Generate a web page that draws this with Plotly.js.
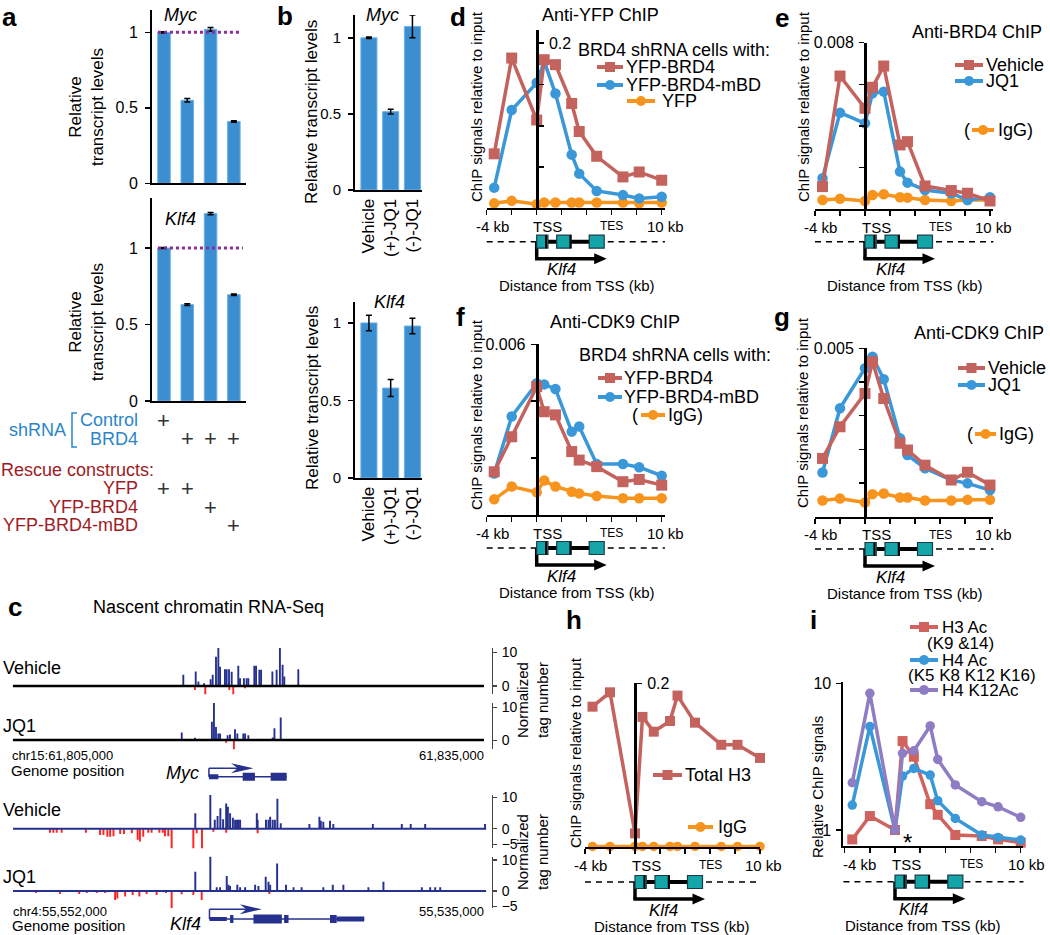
<!DOCTYPE html>
<html><head><meta charset="utf-8">
<script src="https://cdn.plot.ly/plotly-3.0.1.min.js"></script>
<style>html,body{margin:0;padding:0;background:#fff;}#plot{width:1050px;height:935px;}</style>
</head><body><div id="plot"></div>
<script>
// ---------------- DATA ----------------
// Panel a
const aConditions = ["Control shRNA + YFP", "BRD4 shRNA + YFP", "BRD4 shRNA + YFP-BRD4", "BRD4 shRNA + YFP-BRD4-mBD"];
const aMyc = [1.0, 0.55, 1.02, 0.41];
const aMycErr = [0.004, 0.012, 0.012, 0.005];
const aKlf4 = [1.0, 0.63, 1.225, 0.695];
const aKlf4Err = [0.003, 0.005, 0.008, 0.005];
const shControl = [1, 0, 0, 0];
const shBRD4 = [0, 1, 1, 1];
const rescueYFP = [1, 1, 0, 0];
const rescueYFPBRD4 = [0, 0, 1, 0];
const rescueYFPBRD4mBD = [0, 0, 0, 1];
// Panel b
const bCategories = ["Vehicle", "(+)-JQ1", "(-)-JQ1"];
const bMyc = [1.0, 0.515, 1.075];
const bMycErr = [0.005, 0.015, 0.075];
const bKlf4 = [1.0, 0.58, 0.98];
const bKlf4Err = [0.05, 0.055, 0.05];
// ChIP positions (kb from TSS)
const chipPos = [-3.4, -2, 0, 0.6, 1.5, 2.8, 3.4, 4.8, 6.9, 8.2, 10];
// d
const dYfpBrd4 = [0.066, 0.182, 0.107, 0.180, 0.174, 0.127, 0.093, 0.063, 0.038, 0.044, 0.034];
const dYfpBrd4mBD = [0.025, 0.119, 0.152, 0.178, 0.139, 0.065, 0.042, 0.021, 0.016, 0.012, 0.014];
const dYfp = [0.006, 0.009, 0.005, 0.007, 0.007, 0.007, 0.007, 0.007, 0.007, 0.006, 0.007];
// e
const eVehicle = [0.00109, 0.0064, 0.00485, 0.00586, 0.00688, 0.00309, 0.00325, 0.00112, 0.0009, 0.00077, 0.0004];
const eJQ1 = [0.00149, 0.00464, 0.00413, 0.00557, 0.00565, 0.00181, 0.00128, 0.00093, 0.00077, 0.00045, 0.00058];
const eIgG = [0.00045, 0.00051, 0.0004, 0.00069, 0.00072, 0.00058, 0.00056, 0.00045, 0.0004, 0.00045, 0.00045];
// f
const fYfpBrd4 = [0.00152, 0.00275, 0.00451, 0.00363, 0.00352, 0.00223, 0.00193, 0.0017, 0.00117, 0.00125, 0.00105];
const fYfpBrd4mBD = [0.00146, 0.00346, 0.00463, 0.00459, 0.00443, 0.00293, 0.00311, 0.00179, 0.00179, 0.00168, 0.00138];
const fIgG = [0.00055, 0.001, 0.0008, 0.00121, 0.001, 0.00082, 0.00076, 0.00067, 0.00059, 0.00059, 0.00059];
// g
const gVehicle = [0.00173, 0.00267, 0.00366, 0.0046, 0.00351, 0.00218, 0.00198, 0.00153, 0.00109, 0.00132, 0.00094];
const gJQ1 = [0.00131, 0.00322, 0.00441, 0.00475, 0.00408, 0.00233, 0.00183, 0.00144, 0.00109, 0.00099, 0.00079];
const gIgG = [0.00048, 0.00054, 0.00042, 0.00067, 0.00069, 0.00057, 0.00057, 0.00048, 0.00048, 0.0005, 0.0005];
// h
const hTotalH3 = [0.1715, 0.189, 0.017, 0.159, 0.141, 0.154, 0.185, 0.152, 0.125, 0.125, 0.109];
const hIgG = [0.001, 0.001, 0.001, 0.001, 0.001, 0.001, 0.001, 0.001, 0.001, 0.001, 0.001];
// i
const iH3Ac = [0.863, 1.245, 1.0, 4.04, 3.16, 1.50, 1.27, 0.925, 0.91, 0.863, 0.82];
const iH4Ac = [1.48, 5.07, 1.0, 2.33, 2.63, 2.37, 1.585, 1.2, 0.925, 0.89, 0.855];
const iH4K12Ac = [2.10, 8.55, 1.0, 3.33, 3.47, 5.12, 3.03, 2.03, 1.56, 1.44, 1.22];
// c  (positions in kb from left edge of window)
const mycVehPosX = [10.86, 11.65, 11.82, 12.18, 12.6, 12.73, 12.94, 13.09, 13.2, 13.51, 13.62, 13.77, 13.94, 14.36, 14.47, 14.72, 14.89, 15.0, 15.38, 15.49, 15.7, 15.81, 16.53, 16.8, 17.01, 17.18, 17.29, 18.18];
const mycVehPosY = [3.3, 4.3, 1.3, 0.8, 2.0, 3.3, 8.7, 12, 5.7, 5, 5, 5, 4.2, 6, 2.3, 2.3, 2.3, 2.3, 6, 6, 4.8, 4.8, 4.3, 4.8, 12, 6.3, 2.8, 5];
const mycVehNegX = [11.6, 12.26, 13.79, 14.04, 14.79];
const mycVehNegY = [-1.2, -3.7, -1.2, -3.7, -0.7];
const mycJQ1PosX = [10.76, 11.6, 12.68, 12.81, 12.94, 13.09, 13.2, 13.68, 13.83, 14.15, 14.3, 14.68, 14.79, 15.0, 16.55, 16.66, 17.06];
const mycJQ1PosY = [2.3, 0.7, 5.6, 12.2, 4, 2, 2, 1.5, 1.7, 3.3, 2, 2, 2, 1.5, 0.8, 3.6, 6.9];
const mycJQ1NegX = [13.58, 14.08];
const mycJQ1NegY = [-0.8, -4.3];
const klfVehPosX = [6.55, 7.09, 7.25, 7.35, 7.45, 7.55, 7.66, 7.72, 7.8, 7.9, 7.98, 8.05, 8.1, 8.16, 8.76, 8.79, 9.09, 9.18, 9.24, 9.33, 9.41, 9.5, 9.62, 10.65, 11.01, 11.06, 11.15, 11.39, 11.51, 12.93, 13.97, 14.29, 14.81, 16.96];
const klfVehPosY = [4.9, 11, 2.8, 4, 6.5, 3, 8, 7, 4.9, 3.5, 2.8, 2.8, 2.8, 2.8, 4.9, 2.8, 2.8, 2.8, 3.8, 2.8, 2.8, 9.5, 1.7, 1.5, 3.8, 2.5, 2.2, 2.5, 1.5, 1.5, 1.5, 1.5, 1.5, 1.5];
const klfVehNegX = [1.33, 1.45, 1.57, 1.75, 2.62, 3.13, 3.25, 3.39, 3.49, 3.61, 3.85, 3.99, 4.27, 4.48, 4.56, 4.68, 4.86, 4.98, 5.26, 5.38, 5.46, 5.58, 5.7, 6.48, 6.6, 6.79, 7.2, 7.66, 8.79];
const klfVehNegY = [-1.3, -1.3, -1.3, -1.3, -1.3, -2, -2, -2.6, -2.6, -2.4, -1.7, -1.7, -1.5, -3.5, -4.1, -2.6, -1.3, -1.3, -1.3, -1.3, -2.4, -2.4, -7, -6.8, -1.5, -6.6, -1, -1.3, -1.5];
const klfJQ1PosX = [6.55, 7.09, 7.32, 7.44, 7.68, 7.74, 7.8, 8.06, 8.16, 8.34, 8.7, 8.82, 9.08, 9.18, 9.24, 9.49, 9.81, 10.08, 10.37, 11.15, 11.49, 11.87, 12.77, 13.31, 14.69, 14.99, 15.17, 15.35];
const klfJQ1PosY = [6.2, 11.9, 1.2, 1.2, 4.8, 2, 1.6, 2, 1.2, 1.2, 2, 1.6, 4.6, 3, 2, 8.9, 2, 1.2, 1.2, 1.2, 2, 2, 1.2, 3, 1.2, 1.2, 1.2, 1.2];
const klfJQ1NegX = [0.83, 1.69, 2.38, 2.65, 3.01, 3.31, 3.67, 3.75, 4.03, 4.3, 4.54, 4.8, 5.16, 5.5, 5.7, 6.06, 6.48, 6.78, 9.21];
const klfJQ1NegY = [-0.7, -1, -1, -0.7, -0.7, -0.7, -2.9, -2.4, -1.8, -1.3, -1.8, -1, -1.3, -0.7, -5.6, -1.1, -1.3, -2.9, -1];
const mycWindowKb = 30, klfWindowKb = 17;

// ---------------- HELPERS ----------------
const W = 1050, H = 935;
const FONT = "Liberation Sans, Arial, Helvetica, sans-serif";
const RED = '#c4625e', BLUE = '#3a98d8', ORANGE = '#f7941d', PURPLE = '#8f7dc3', IRED = '#d0635e';
const BAR = '#3b8fd1', TEAL = '#13a5a8', NAVY = '#25308f', CRED = '#ff2222';
const SHBLUE = '#2a86c8', DRED = '#9e1b1f';
const px = v => v / W, py = v => 1 - v / H;
const xd = (a, b) => [a / W, b / W];
const yd = (top, bot) => [1 - bot / H, 1 - top / H];
const data = [], shapes = [], annotations = [];
const layout = {
  width: W, height: H, margin: {l: 0, r: 0, t: 0, b: 0}, showlegend: false,
  paper_bgcolor: '#fff', plot_bgcolor: 'rgba(0,0,0,0)', barmode: 'overlay', hovermode: false,
  font: {family: FONT, size: 15, color: '#000'}, shapes, annotations
};
function ann(text, x, y, size, o = {}) {
  annotations.push({text, x: px(x), y: py(y), xref: 'paper', yref: 'paper', showarrow: false,
    xanchor: o.xa || 'center', yanchor: 'middle', textangle: o.angle || 0, align: o.align || 'center',
    borderpad: 0, font: {family: FONT, size, color: o.color || '#000'}});
}
function pline(x0, y0, x1, y1, color, width, dash) {
  shapes.push({type: 'line', xref: 'paper', yref: 'paper', x0: px(x0), y0: py(y0), x1: px(x1), y1: py(y1),
    line: {color, width, dash: dash || 'solid'}});
}
function prect(x0, y0, x1, y1, fill, lc, lw, type) {
  shapes.push({type: type || 'rect', xref: 'paper', yref: 'paper', x0: px(x0), y0: py(y1), x1: px(x1), y1: py(y0),
    fillcolor: fill, line: {color: lc || fill, width: lw || 0}});
}
function ppath(pts, fill, lc, lw, closed = true) {
  const d = 'M ' + pts.map(p => px(p[0]).toFixed(5) + ',' + py(p[1]).toFixed(5)).join(' L ') + (closed ? ' Z' : '');
  shapes.push({type: 'path', xref: 'paper', yref: 'paper', path: d, fillcolor: fill || 'rgba(0,0,0,0)',
    line: {color: lc || fill, width: lw || 0}});
}
function glyph(x0, x1, y, color, symbol) {
  pline(x0, y, x1, y, color, 4);
  const m = (x0 + x1) / 2, r = 5;
  prect(m - r, y - r, m + r, y + r, color, color, 0, symbol === 'square' ? 'rect' : 'circle');
}
function axBase(o) {
  return Object.assign({showgrid: false, zeroline: false, showline: true, linecolor: '#000', linewidth: 2,
    ticks: 'outside', ticklen: 5, tickwidth: 1.5, tickcolor: '#000',
    tickfont: {family: FONT, size: 16, color: '#000'}, fixedrange: true}, o);
}
function bars(n, x, y, err, width) {
  data.push({type: 'bar', x, y, width, xaxis: 'x' + n, yaxis: 'y' + n,
    marker: {color: BAR, line: {color: '#6db2e6', width: 1}},
    error_y: {type: 'data', array: err, visible: true, color: '#000', thickness: 1.5, width: 3}});
}

// ---------------- PANEL a ----------------
const aIdx = aConditions.map((_, i) => i);
layout.xaxis = axBase({domain: xd(152, 245.5), range: [-0.515, 3.5], anchor: 'y', ticks: '', showticklabels: false});
layout.yaxis = axBase({domain: yd(10, 183.3), range: [0, 1.148], anchor: 'x', tickvals: [0, 0.5, 1], ticklabelstandoff: 4});
layout.xaxis2 = axBase({domain: xd(152, 245.5), range: [-0.515, 3.5], anchor: 'y2', ticks: '', showticklabels: false});
layout.yaxis2 = axBase({domain: yd(198, 401), range: [0, 1.327], anchor: 'x2', tickvals: [0, 0.5, 1], ticklabelstandoff: 4});
bars(1, aIdx, aMyc, aMycErr, 0.54);
bars(2, aIdx, aKlf4, aKlf4Err, 0.54);
shapes.push({type: 'line', xref: 'x', yref: 'y', x0: -0.26, x1: 3.22, y0: 1, y1: 1, line: {color: '#8e2b9a', width: 3, dash: 'dot'}});
shapes.push({type: 'line', xref: 'x2', yref: 'y2', x0: -0.26, x1: 3.39, y0: 1, y1: 1, line: {color: '#8e2b9a', width: 3, dash: 'dot'}});
ann('<b>a</b>', 9, 17, 26);
ann('<i>Myc</i>', 180, 15, 18);
ann('<i>Klf4</i>', 180, 219, 18);
ann('Relative<br>transcript levels', 86, 107, 17, {angle: -90});
ann('Relative<br>transcript levels', 86, 322, 17, {angle: -90});
ann('shRNA', 8, 430, 18, {xa: 'left', color: SHBLUE});
ppath([[77, 413], [72, 413], [72, 447], [77, 447]], null, SHBLUE, 1.5, false);
ann('Control', 139, 420, 18, {xa: 'right', color: SHBLUE});
ann('BRD4', 139, 439, 18, {xa: 'right', color: SHBLUE});
ann('Rescue constructs:', 0, 470, 18, {xa: 'left', color: DRED});
ann('YFP', 139, 488, 18, {xa: 'right', color: DRED});
ann('YFP-BRD4', 139, 507, 18, {xa: 'right', color: DRED});
ann('YFP-BRD4-mBD', 139, 525, 18, {xa: 'right', color: DRED});
[[shControl, 420], [shBRD4, 439], [rescueYFP, 488], [rescueYFPBRD4, 507], [rescueYFPBRD4mBD, 525]].forEach(([flags, yy]) => {
  flags.forEach((f, i) => {
    if (f) annotations.push({text: '+', x: aIdx[i], xref: 'x2', y: py(yy), yref: 'paper', showarrow: false,
      xanchor: 'center', yanchor: 'middle', borderpad: 0, font: {family: FONT, size: 22, color: '#333'}});
  });
});

// ---------------- PANEL b ----------------
const bIdx = bCategories.map((_, i) => i);
layout.xaxis3 = axBase({domain: xd(355, 422), range: [-0.64, 2.44], anchor: 'y3', ticks: '', tickvals: bIdx, ticktext: bCategories, tickangle: -90, tickfont: {family: FONT, size: 17, color: '#000'}});
layout.yaxis3 = axBase({domain: yd(15, 190), range: [0, 1.15], anchor: 'x3', tickvals: [0, 0.5, 1], ticklabelstandoff: 4, tickfont: {family: FONT, size: 15, color: '#000'}});
layout.xaxis4 = axBase({domain: xd(355, 422), range: [-0.64, 2.44], anchor: 'y4', ticks: '', tickvals: bIdx, ticktext: bCategories, tickangle: -90, tickfont: {family: FONT, size: 17, color: '#000'}});
layout.yaxis4 = axBase({domain: yd(302, 478), range: [0, 1.135], anchor: 'x4', tickvals: [0, 0.5, 1], ticklabelstandoff: 4, tickfont: {family: FONT, size: 15, color: '#000'}});
bars(3, bIdx, bMyc, bMycErr, 0.74);
bars(4, bIdx, bKlf4, bKlf4Err, 0.74);
ann('<b>b</b>', 285, 16, 26);
ann('<i>Myc</i>', 382, 15, 18);
ann('<i>Klf4</i>', 389, 302, 18);
ann('Relative transcript levels', 312, 112, 17, {angle: -90});
ann('Relative transcript levels', 312, 398, 17, {angle: -90});

// ---------------- ChIP panels ----------------
const KB_TICKS = [-4, -2, 0, 2, 4, 6, 8, 10];
function gene(tss, ppk, lPx, rPx, yD, klfKb, distKb) {
  const k = kb => tss + kb * ppk;
  pline(lPx, yD, rPx, yD, '#000', 1.5, '6px,5px');
  pline(k(0.9), yD, k(4.2), yD, '#000', 4);
  pline(tss, yD, tss, yD + 17, '#000', 3.5);
  pline(tss - 1.7, yD + 17, k(4.9), yD + 17, '#000', 3.5);
  ppath([[k(5.6), yD + 17], [k(4.6), yD + 11.5], [k(4.6), yD + 22.5]], '#000');
  [[0, 0.9], [1.6, 2.75], [4.2, 5.4]].forEach(([a, b]) => prect(k(a), yD - 6.5, k(b), yD + 6.5, TEAL, '#1b3b47', 1.2));
  pline(k(0.75), yD - 6.5, k(0.75), yD + 6.5, '#000', 2);
  pline(k(2.7), yD - 6.5, k(2.7), yD + 6.5, '#000', 2);
  ann('<i>Klf4</i>', k(klfKb), yD + 28, 17);
  ann('Distance from TSS (kb)', k(distKb), yD + 44, 15);
}
function chip(n, c) {
  const lPx = c.tss + c.xr[0] * c.ppk, rPx = c.tss + c.xr[1] * c.ppk;
  layout['xaxis' + n] = axBase({domain: xd(lPx, rPx), range: c.xr, anchor: 'y' + n, tickvals: KB_TICKS, showticklabels: false, ticklen: 5});
  const yax = axBase({domain: yd(c.top, c.axisY), range: c.yr, tickvals: c.tv, ticktext: c.tt, side: c.side, linewidth: c.ylw || 3, ticklabelstandoff: 2});
  if (c.log) { yax.type = 'log'; yax.anchor = 'x' + n; } else { yax.anchor = 'free'; yax.position = c.tss / W; }
  layout['yaxis' + n] = yax;
  c.series.forEach(s => data.push({type: 'scatter', mode: 'lines+markers', x: chipPos, y: s.y, xaxis: 'x' + n, yaxis: 'y' + n,
    line: {color: s.color, width: 3.5}, marker: {color: s.color, size: s.symbol === 'square' ? (c.ms || 11) : (c.ms || 11) - 0.5, symbol: s.symbol},
    cliponaxis: false, name: s.name}));
  const labs = c.labels || [['-4 kb', -3.55, 15], ['TSS', 0.9, 15], ['TES', 6.0, 12], ['10 kb', 10.3, 15]];
  labs.forEach(([t, kb, size]) => ann(t, c.tss + kb * c.ppk, c.axisY + 18, size));
  gene(c.tss, c.ppk, lPx, rPx, c.dashY, c.klfKb || 2.0, c.distKb || 3.2);
}
// d
chip(5, {tss: 536.7, ppk: 12.5, xr: [-4, 10.26], top: 30, axisY: 208.3, yr: [0, 0.216],
  tv: [0.05, 0.1, 0.15, 0.2], tt: ['', '', '', '0.2'], side: 'right', dashY: 241.7,
  series: [{y: dYfp, color: ORANGE, symbol: 'circle', name: 'YFP'}, {y: dYfpBrd4mBD, color: BLUE, symbol: 'circle', name: 'YFP-BRD4-mBD'}, {y: dYfpBrd4, color: RED, symbol: 'square', name: 'YFP-BRD4'}]});
ann('<b>d</b>', 458, 17, 26);
ann('Anti-YFP ChIP', 600, 15, 18);
ann('ChIP signals relative to input', 476, 107, 15, {angle: -90});
ann('BRD4 shRNA cells with:', 577, 50, 18, {xa: 'left'});
glyph(597, 623, 67, RED, 'square'); ann('YFP-BRD4', 625, 67, 18, {xa: 'left'});
glyph(597, 623, 85, BLUE, 'circle'); ann('YFP-BRD4-mBD', 625, 85, 18, {xa: 'left'});
glyph(627, 655, 101, ORANGE, 'circle'); ann('YFP', 661, 101, 18, {xa: 'left'});
// e
chip(6, {tss: 865, ppk: 12.5, xr: [-4, 10.27], top: 42.7, axisY: 209.3, yr: [0, 0.008],
  tv: [0.002, 0.004, 0.006, 0.008], tt: ['', '', '', '0.008'], side: 'left', dashY: 241.7,
  series: [{y: eIgG, color: ORANGE, symbol: 'circle', name: 'IgG'}, {y: eJQ1, color: BLUE, symbol: 'circle', name: 'JQ1'}, {y: eVehicle, color: RED, symbol: 'square', name: 'Vehicle'}]});
ann('<b>e</b>', 782, 18, 26);
ann('Anti-BRD4 ChIP', 977, 32, 18);
ann('ChIP signals relative to input', 803, 107, 15, {angle: -90});
glyph(955, 983, 65, RED, 'square'); ann('Vehicle', 985, 65, 18, {xa: 'left'});
glyph(955, 983, 81, BLUE, 'circle'); ann('JQ1', 985, 81, 18, {xa: 'left'});
ann('(', 967, 130, 18); glyph(972, 994, 130, ORANGE, 'circle'); ann('IgG)', 997, 130, 18, {xa: 'left'});
// f
chip(7, {tss: 536.7, ppk: 12.5, xr: [-4, 10.26], top: 344.3, axisY: 515, yr: [0, 0.006],
  tv: [0.002, 0.004, 0.006], tt: ['', '', '0.006'], side: 'left', dashY: 548,
  series: [{y: fIgG, color: ORANGE, symbol: 'circle', name: 'IgG'}, {y: fYfpBrd4mBD, color: BLUE, symbol: 'circle', name: 'YFP-BRD4-mBD'}, {y: fYfpBrd4, color: RED, symbol: 'square', name: 'YFP-BRD4'}]});
ann('<b>f</b>', 460, 317, 26);
ann('Anti-CDK9 ChIP', 615, 322, 18);
ann('ChIP signals relative to input', 476, 415, 15, {angle: -90});
ann('BRD4 shRNA cells with:', 578, 355, 18, {xa: 'left'});
glyph(598, 622, 378, RED, 'square'); ann('YFP-BRD4', 623, 378, 18, {xa: 'left'});
glyph(598, 622, 397, BLUE, 'circle'); ann('YFP-BRD4-mBD', 623, 397, 18, {xa: 'left'});
ann('(', 635, 415, 18); glyph(641, 665, 415, ORANGE, 'circle'); ann('IgG)', 667, 415, 18, {xa: 'left'});
// g
chip(8, {tss: 865, ppk: 12.5, xr: [-4, 10.27], top: 348.3, axisY: 516.7, yr: [0, 0.005],
  tv: [0.001, 0.002, 0.003, 0.004, 0.005], tt: ['', '', '', '', '0.005'], side: 'left', dashY: 549,
  series: [{y: gIgG, color: ORANGE, symbol: 'circle', name: 'IgG'}, {y: gJQ1, color: BLUE, symbol: 'circle', name: 'JQ1'}, {y: gVehicle, color: RED, symbol: 'square', name: 'Vehicle'}]});
ann('<b>g</b>', 782, 317, 26);
ann('Anti-CDK9 ChIP', 979, 333, 18);
ann('ChIP signals relative to input', 803, 413, 15, {angle: -90});
glyph(958, 985, 368, RED, 'square'); ann('Vehicle', 987, 368, 18, {xa: 'left'});
glyph(958, 985, 385, BLUE, 'circle'); ann('JQ1', 987, 385, 18, {xa: 'left'});
ann('(', 970, 434, 18); glyph(975, 996, 434, ORANGE, 'circle'); ann('IgG)', 998, 434, 18, {xa: 'left'});
// h
chip(9, {tss: 635, ppk: 12.5, xr: [-4, 10], top: 683.3, axisY: 847.3, yr: [0, 0.2],
  tv: [0.2], tt: ['0.2'], side: 'right', dashY: 882, ms: 10, klfKb: 2.3, distKb: 3.0,
  series: [{y: hIgG, color: ORANGE, symbol: 'circle', name: 'IgG'}, {y: hTotalH3, color: RED, symbol: 'square', name: 'Total H3'}]});
ann('<b>h</b>', 574, 620, 26);
ann('ChIP signals relative to input', 575, 753, 15, {angle: -90});
glyph(653, 682, 775, RED, 'square'); ann('Total H3', 684, 775, 18, {xa: 'left'});
glyph(688, 713, 827, ORANGE, 'circle'); ann('IgG', 717, 827, 18, {xa: 'left'});
// i
chip(10, {tss: 895, ppk: 12.57, xr: [-4.1, 10.22], top: 681.7, axisY: 846, yr: [-0.109, 1.011], log: true,
  tv: [1, 10], tt: ['1', '10'], side: 'left', ylw: 2, dashY: 881.7, ms: 10, klfKb: 1.5, distKb: 2.2,
  labels: [['-4 kb', -2.8, 15], ['TSS', 0.95, 15], ['TES', 6.1, 12], ['10 kb', 10.5, 15]],
  series: [{y: iH3Ac, color: IRED, symbol: 'square', name: 'H3 Ac'}, {y: iH4Ac, color: BLUE, symbol: 'circle', name: 'H4 Ac'}, {y: iH4K12Ac, color: PURPLE, symbol: 'circle', name: 'H4 K12Ac'}]});
ann('<b>i</b>', 813, 620, 26);
ann('Relative ChIP signals', 817, 787, 15, {angle: -90});
ann('*', 907, 842, 24);
glyph(910, 938, 627, IRED, 'square'); ann('H3 Ac', 941, 627, 17, {xa: 'left'});
ann('(K9 &amp;14)', 960, 643, 17);
glyph(910, 938, 660, BLUE, 'circle'); ann('H4 Ac', 941, 660, 17, {xa: 'left'});
ann('(K5 K8 K12 K16)', 972, 675, 17);
glyph(910, 938, 690, PURPLE, 'circle'); ann('H4 K12Ac', 941, 690, 17, {xa: 'left'});

// ---------------- PANEL c ----------------
function track(n, top, bottom, l, r, xr, yr, tv, posX, posY, negX, negY, width, baseColor, baseLen, baseW) {
  layout['xaxis' + n] = {domain: xd(l, r), range: xr, visible: false, fixedrange: true, anchor: 'y' + n};
  layout['yaxis' + n] = axBase({domain: yd(top, bottom), range: yr, anchor: 'x' + n, side: 'right', tickvals: tv,
    linewidth: 1.2, linecolor: '#444', tickcolor: '#444', ticklen: 4, tickwidth: 1.2, ticklabelstandoff: 2,
    tickfont: {family: FONT, size: 14, color: '#000'}});
  data.push({type: 'bar', x: posX, y: posY, width, xaxis: 'x' + n, yaxis: 'y' + n, marker: {color: NAVY, line: {width: 0}}, cliponaxis: false});
  data.push({type: 'bar', x: negX, y: negY, width, xaxis: 'x' + n, yaxis: 'y' + n, marker: {color: CRED, line: {width: 0}}, cliponaxis: false});
  shapes.push({type: 'line', xref: 'x' + n, yref: 'y' + n, x0: 0, x1: baseLen, y0: 0, y1: 0, line: {color: baseColor, width: baseW}});
}
track(11, 648, 694.3, 12.7, 491.7, [0, 30.49], [-2.5, 11.3], [0, 10], mycVehPosX, mycVehPosY, mycVehNegX, mycVehNegY, 0.12, '#000', mycWindowKb, 2.5);
track(12, 703, 749.3, 12.7, 491.7, [0, 30.49], [-2.8, 11.3], [0, 10], mycJQ1PosX, mycJQ1PosY, mycJQ1NegX, mycJQ1NegY, 0.12, '#000', mycWindowKb, 2.5);
track(13, 795, 848.3, 13, 491.7, [0, 17.2], [-6.25, 10.7], [-5, 0, 10], klfVehPosX, klfVehPosY, klfVehNegX, klfVehNegY, 0.07, NAVY, klfWindowKb, 2);
track(14, 856.7, 908.3, 13, 491.7, [0, 17.2], [-5.6, 11.06], [-5, 0, 10], klfJQ1PosX, klfJQ1PosY, klfJQ1NegX, klfJQ1NegY, 0.07, NAVY, klfWindowKb, 2);
ann('<b>c</b>', 15, 607, 26);
ann('Nascent chromatin RNA-Seq', 208, 607, 18);
ann('Vehicle', 2, 668, 18, {xa: 'left'});
ann('JQ1', 2, 726, 18, {xa: 'left'});
ann('chr15:61,805,000', 11, 755, 13, {xa: 'left'});
ann('61,835,000', 485, 755, 13, {xa: 'right'});
ann('Genome position', 10, 770, 15, {xa: 'left'});
ann('<i>Myc</i>', 182, 773, 18);
ann('Normalized<br>tag number', 532, 700, 15, {angle: -90});
ann('Vehicle', 2, 810, 18, {xa: 'left'});
ann('JQ1', 2, 877, 18, {xa: 'left'});
ann('chr4:55,552,000', 12, 911, 13, {xa: 'left'});
ann('55,535,000', 485, 911, 13, {xa: 'right'});
ann('Genome position', 11, 925, 15, {xa: 'left'});
ann('<i>Klf4</i>', 185, 924, 18);
ann('Normalized<br>tag number', 532, 852, 15, {angle: -90});
// gene models (in each track's kb scale)
function dline(xref, x0, x1, y0, y1, w) { shapes.push({type: 'line', xref, yref: 'paper', x0, x1, y0: py(y0), y1: py(y1), line: {color: NAVY, width: w}}); }
function drect(xref, x0, x1, yc, h) { shapes.push({type: 'rect', xref, yref: 'paper', x0, x1, y0: py(yc + h), y1: py(yc - h), fillcolor: NAVY, line: {width: 0}}); }
function dhead(xref, tip, back, yc) {
  shapes.push({type: 'path', xref, yref: 'paper', path: `M ${tip},${py(yc)} L ${back},${py(yc - 5)} L ${back + (tip - back) * 0.3},${py(yc)} L ${back},${py(yc + 5)} Z`, fillcolor: NAVY, line: {width: 0}});
}
// Myc
dline('x12', 12.49, 17.44, 776.7, 776.7, 1.5);
drect('x12', 12.49, 13.09, 776.7, 2.5); drect('x12', 14.64, 15.42, 776.7, 4); drect('x12', 16.42, 17.44, 776.7, 4);
dline('x12', 12.49, 12.49, 776.7, 768.3, 1.5); dline('x12', 12.49, 14.6, 768.3, 768.3, 1.5);
dhead('x12', 15.32, 13.9, 768.3);
// Klf4
dline('x14', 7.06, 12.62, 919, 919, 1.5);
drect('x14', 7.06, 7.68, 919, 2); drect('x14', 7.8, 7.92, 919, 4); drect('x14', 8.64, 9.66, 919, 4.5);
drect('x14', 9.74, 9.9, 919, 4); drect('x14', 11.39, 11.63, 919, 4); drect('x14', 11.63, 12.62, 919, 2.5);
dline('x14', 7.06, 7.06, 919, 909.3, 1.5); dline('x14', 7.06, 8.4, 909.3, 909.3, 1.5);
dhead('x14', 8.94, 8.15, 909.3);

Plotly.newPlot('plot', data, layout, {staticPlot: true});
</script></body></html>
